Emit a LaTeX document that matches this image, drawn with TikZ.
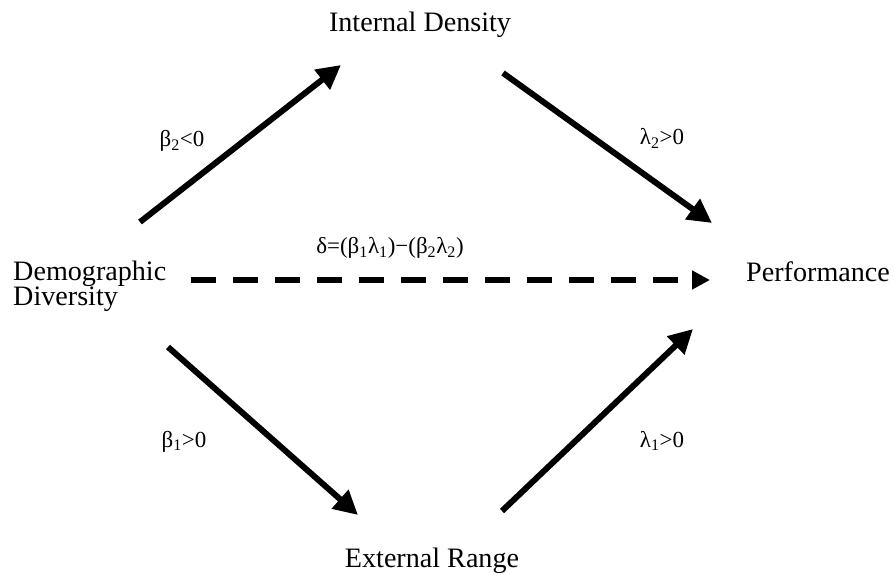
\documentclass[tikz,border=0pt]{standalone}
\usepackage{fontspec}
\setmainfont{Liberation Serif}
\usetikzlibrary{arrows.meta, positioning}

\tikzset{
  construct/.style={inner sep=0pt, font=\fontsize{24}{21}\selectfont},
  coef/.style={inner sep=0pt, font=\fontsize{19.6}{23}\selectfont},
  effect/.style={line width=5.1pt, -{Triangle[length=7.2mm, width=7.2mm]}},
  net effect/.style={line width=5.1pt, dash pattern=on 7.5mm off 5.1mm,
                     -{Triangle[length=5.4mm, width=5.4mm]}}
}

\begin{document}
\begin{tikzpicture}[x=0.03cm, y=-0.03cm]
\useasboundingbox (0,0) rectangle (894,573);

% ================= CONSTRUCTOS =================
\node[construct, anchor=base west, align=left] (diversity) at (13,306) {Demographic\\Diversity};
\node[construct, anchor=base] (density) at (420,32) {Internal Density};
\node[construct, anchor=base] (range) at (432,567) {External Range};
\node[construct, anchor=base west] (performance) at (746,282) {Performance};

% extremos de las flechas
\coordinate (div-top) at (140,222);
\coordinate (den-in) at (341,65);
\coordinate (den-out) at (503,73);
\coordinate (perf-top) at (712,223);
\coordinate (div-bot) at (168,347);
\coordinate (ran-in) at (358,515);
\coordinate (ran-out) at (502,511);
\coordinate (perf-bot) at (693,329);
\coordinate (div-mid) at (191,280);
\coordinate (perf-mid) at (710,280);

% ================= EFECTOS =================
\draw[effect] (div-top) -- (den-in);
\draw[effect] (den-out) -- (perf-top);
\draw[effect] (div-bot) -- (ran-in);
\draw[effect] (ran-out) -- (perf-bot);
\draw[net effect] (div-mid) -- (perf-mid);

% coeficientes
\node[coef, anchor=base] (b2) at (182,147) {β\textsubscript{2}<0};
\node[coef, anchor=base] (l2) at (662,145) {λ\textsubscript{2}>0};
\node[coef, anchor=base] (b1) at (184,447) {β\textsubscript{1}>0};
\node[coef, anchor=base] (l1) at (662,447) {λ\textsubscript{1}>0};
\node[coef, anchor=base] (delta) at (390,254)
    {δ=(β\textsubscript{1}λ\textsubscript{1})−(β\textsubscript{2}λ\textsubscript{2})};

\end{tikzpicture}
\end{document}
